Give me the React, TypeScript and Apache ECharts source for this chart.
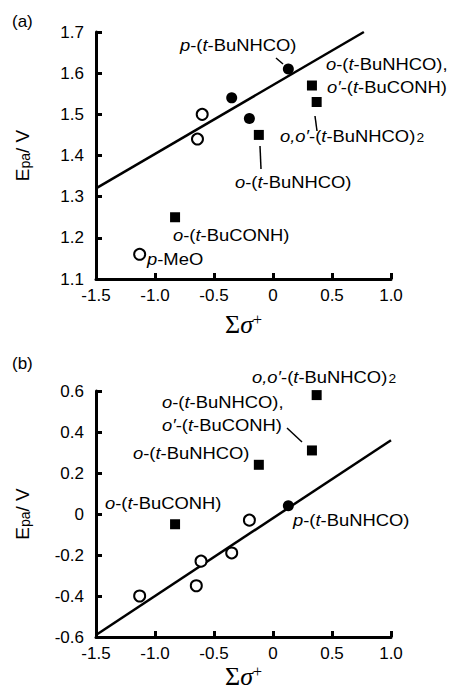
import React, { useEffect, useRef } from 'react';
import * as echarts from 'echarts';

// ---- data ----
const xTicks = [-1.5, -1.0, -0.5, 0, 0.5, 1.0];
const aTicks = [1.1, 1.2, 1.3, 1.4, 1.5, 1.6, 1.7];
const bTicks = [-0.6, -0.4, -0.2, 0, 0.2, 0.4, 0.6];

const aOpenX = [-1.13, -0.64, -0.6];
const aOpenY = [1.16, 1.44, 1.5];
const aFilledX = [-0.35, -0.2, 0.13];
const aFilledY = [1.54, 1.49, 1.61];
const aSquareX = [-0.83, -0.12, 0.33, 0.37];
const aSquareY = [1.25, 1.45, 1.57, 1.53];
const aFitX = [-1.5, 0.77];
const aFitY = [1.32, 1.7];

const bOpenX = [-1.13, -0.65, -0.61, -0.35, -0.2];
const bOpenY = [-0.4, -0.35, -0.23, -0.19, -0.03];
const bFilledX = [0.13];
const bFilledY = [0.04];
const bSquareX = [-0.83, -0.12, 0.33, 0.37];
const bSquareY = [-0.05, 0.24, 0.31, 0.58];
const bFitX = [-1.5, 1.0];
const bFitY = [-0.59, 0.36];

const panelLabels = ['(a)', '(b)'];
const yName = 'E{s|pa}/ V';
const xName = '{a|Σ}{b|σ}{c|+}';

const annoA = [
  '{i|p}-({i|t}-BuNHCO)',
  '{i|o}-({i|t}-BuNHCO),',
  '{i|o′}-({i|t}-BuCONH)',
  '{i|o,o′}-({i|t}-BuNHCO){s|2}',
  '{i|o}-({i|t}-BuNHCO)',
  '{i|o}-({i|t}-BuCONH)',
  '{i|p}-MeO',
];
const annoB = [
  '{i|o,o′}-({i|t}-BuNHCO){s|2}',
  '{i|o}-({i|t}-BuNHCO),',
  '{i|o′}-({i|t}-BuCONH)',
  '{i|o}-({i|t}-BuNHCO)',
  '{i|o}-({i|t}-BuCONH)',
  '{i|p}-({i|t}-BuNHCO)',
];

const zip = (xs: number[], ys: number[]) => xs.map((x, i) => [x, ys[i]]);
const fmt = (v: number) => (Math.abs(v) < 1e-9 ? '0' : v.toFixed(1));

const SANS = 'Liberation Sans';
const SERIF = 'Liberation Serif';

const annoRich = {
  i: { fontStyle: 'italic', fontFamily: SANS, fontSize: 16, fill: '#000' },
  s: { fontFamily: SANS, fontSize: 12, verticalAlign: 'bottom', fill: '#000', padding: [0, 0, 0, 1] },
};

function makeX(gridIndex: number, gap: number) {
  return {
    type: 'value',
    gridIndex,
    min: -1.5,
    max: 1.0,
    interval: 0.5,
    axisLine: { onZero: false, lineStyle: { color: '#000', width: 3 } },
    axisTick: { inside: true, length: 6, lineStyle: { color: '#000', width: 3 } },
    axisLabel: {
      margin: 8,
      fontSize: 17,
      fontFamily: SANS,
      color: '#000',
      formatter: (v: number) => fmt(v),
      customValues: xTicks,
    },
    splitLine: { show: false },
    name: xName,
    nameLocation: 'middle',
    nameGap: gap,
    nameTextStyle: {
      fontFamily: SERIF,
      fontSize: 26,
      color: '#000',
      rich: {
        a: { fontFamily: SERIF, fontSize: 26, color: '#000' },
        b: { fontFamily: SERIF, fontSize: 26, fontStyle: 'italic', color: '#000' },
        c: { fontFamily: SERIF, fontSize: 16, color: '#000', verticalAlign: 'top' },
      },
    },
  };
}

function makeY(gridIndex: number, ticks: number[]) {
  return {
    type: 'value',
    gridIndex,
    min: ticks[0],
    max: ticks[ticks.length - 1],
    interval: Math.round((ticks[1] - ticks[0]) * 10) / 10,
    axisLine: { onZero: false, lineStyle: { color: '#000', width: 3 } },
    axisTick: { inside: true, length: 6, lineStyle: { color: '#000', width: 3 } },
    axisLabel: {
      margin: 12,
      fontSize: 17,
      fontFamily: SANS,
      color: '#000',
      formatter: (v: number) => fmt(v),
    },
    splitLine: { show: false },
    name: yName,
    nameLocation: 'middle',
    nameGap: 64,
    nameRotate: 90,
    nameTextStyle: {
      fontFamily: SANS,
      fontSize: 19,
      color: '#000',
      rich: {
        s: { fontFamily: SANS, fontSize: 14, color: '#000', verticalAlign: 'bottom' },
      },
    },
  };
}

function scatter(idx: number, data: number[][], symbol: string, filled: boolean, size: number) {
  return {
    type: 'scatter',
    xAxisIndex: idx,
    yAxisIndex: idx,
    data,
    symbol,
    symbolSize: size,
    itemStyle: filled
      ? { color: '#000', borderWidth: 0, opacity: 1 }
      : { color: '#fff', borderColor: '#000', borderWidth: 2, opacity: 1 },
    z: 5,
  };
}

function fit(idx: number, data: number[][]) {
  return {
    type: 'line',
    xAxisIndex: idx,
    yAxisIndex: idx,
    data,
    symbol: 'none',
    lineStyle: { color: '#000', width: 2.5 },
    z: 3,
  };
}

function text(t: string, x: number, y: number) {
  return {
    type: 'text',
    x,
    y,
    scaleX: 1.15,
    style: {
      text: t,
      fontFamily: SANS,
      fontSize: 16,
      fill: '#000',
      align: 'left',
      verticalAlign: 'middle',
      rich: annoRich,
    },
    z: 10,
  };
}

function leader(x1: number, y1: number, x2: number, y2: number) {
  return {
    type: 'line',
    shape: { x1, y1, x2, y2 },
    style: { stroke: '#000', lineWidth: 1.5 },
    z: 10,
  };
}

export default function App() {
  const ref = useRef<HTMLDivElement>(null);
  useEffect(() => {
    if (!ref.current) return;
    const chart = echarts.init(ref.current, undefined, { renderer: 'svg' });
    const posA = [
      [180, 45],
      [326, 64],
      [327, 87],
      [280, 136],
      [235, 182],
      [173, 235],
      [147, 259],
    ];
    const posB = [
      [252, 377],
      [162, 402],
      [162, 425],
      [133, 453],
      [105, 503],
      [293, 520],
    ];
    chart.setOption({
      animation: false,
      backgroundColor: '#fff',
      grid: [
        { left: 96, top: 32, width: 295, height: 247, containLabel: false, outerBoundsMode: 'none' },
        { left: 96, top: 391, width: 295, height: 246, containLabel: false, outerBoundsMode: 'none' },
      ],
      xAxis: [makeX(0, 32), makeX(1, 26)],
      yAxis: [makeY(0, aTicks), makeY(1, bTicks)],
      series: [
        fit(0, zip(aFitX, aFitY)),
        scatter(0, zip(aOpenX, aOpenY), 'circle', false, 11),
        scatter(0, zip(aFilledX, aFilledY), 'circle', true, 11),
        scatter(0, zip(aSquareX, aSquareY), 'rect', true, 10),
        fit(1, zip(bFitX, bFitY)),
        scatter(1, zip(bOpenX, bOpenY), 'circle', false, 11),
        scatter(1, zip(bFilledX, bFilledY), 'circle', true, 11),
        scatter(1, zip(bSquareX, bSquareY), 'rect', true, 10),
      ],
      graphic: [
        {
          type: 'text',
          x: 12,
          y: 21,
          style: { text: panelLabels[0], fontFamily: SANS, fontSize: 17, fill: '#000', verticalAlign: 'middle' },
        },
        {
          type: 'text',
          x: 12,
          y: 363,
          style: { text: panelLabels[1], fontFamily: SANS, fontSize: 17, fill: '#000', verticalAlign: 'middle' },
        },
        ...annoA.map((t, i) => text(t, posA[i][0], posA[i][1])),
        ...annoB.map((t, i) => text(t, posB[i][0], posB[i][1])),
        leader(276, 58, 283, 64),
        leader(315, 116, 317, 131),
        leader(260, 146, 261, 169),
        leader(287, 428, 302, 442),
      ],
    });
    return () => chart.dispose();
  }, []);
  return (
    <div
      ref={ref}
      style={{ position: 'fixed', left: 0, top: 0, width: 449, height: 690 }}
    />
  );
}
